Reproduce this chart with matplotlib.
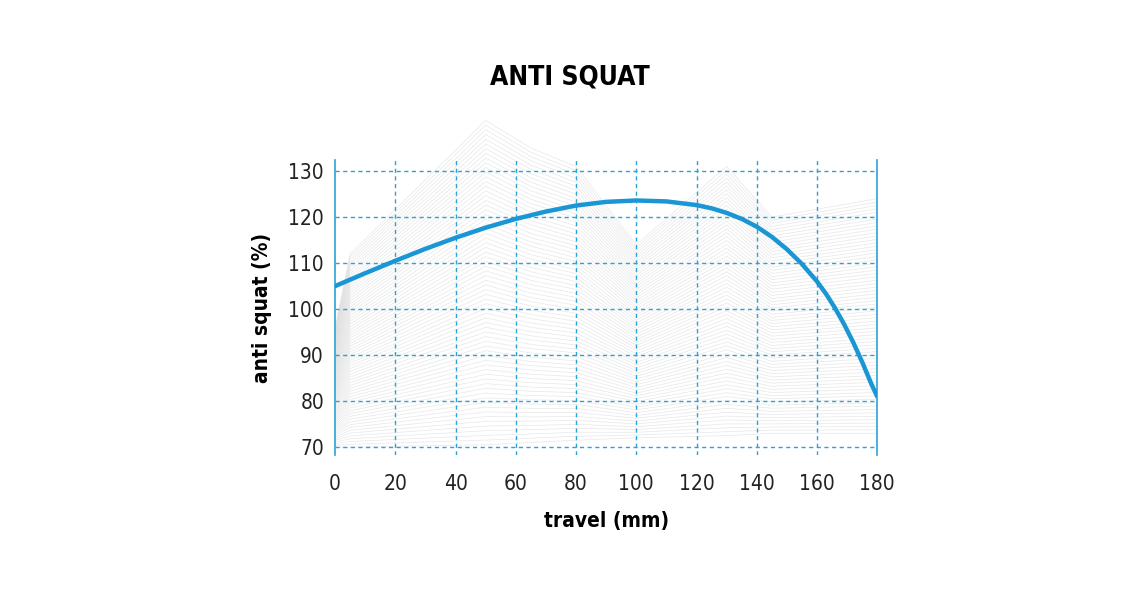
import numpy as np
import matplotlib.pyplot as plt

# anti squat curve
travel = [0, 10, 20, 30, 40, 50, 60, 70, 80, 90, 100, 110, 120, 125, 130, 135, 140, 145, 150, 155,
          160, 163, 166, 169, 172, 175, 178, 180]
anti_squat = [105, 107.8, 110.5, 113.1, 115.5, 117.7, 119.6, 121.2, 122.5, 123.3, 123.6, 123.4, 122.6,
              121.9, 120.9, 119.6, 117.9, 115.7, 113.0, 109.8, 106.0, 103.3, 100.2, 96.7, 92.8, 88.5, 83.8, 81.0]

# decorative background mesh: outline profiles
mesh_x = [0, 5, 50, 65, 80, 100, 130, 145, 180]
mesh_low = [70, 70, 70.5, 71, 71.5, 72, 72.5, 73, 73]
mesh_high = [96, 112, 141, 135, 131, 114, 131, 120, 124]

BLUE = "#1a96d4"
GRID = "#2ba3d8"

fig = plt.figure(figsize=(11.4, 5.97), dpi=100)
ax = fig.add_axes([0.294, 0.238, 0.4755, 0.494])

for t in np.linspace(0, 1, 70):
    ys = [lo + (hi - lo) * t for lo, hi in zip(mesh_low, mesh_high)]
    ax.plot(mesh_x, ys, color="#d0d0d0", lw=0.5, alpha=0.5, zorder=1, clip_on=False)

ax.plot(travel, anti_squat, color=BLUE, lw=3.2, zorder=4, solid_capstyle="round", solid_joinstyle="round")

ax.set_xlim(0, 180)
ax.set_ylim(68.3, 132.4)
ax.set_xticks(range(0, 181, 20))
ax.set_yticks(range(70, 131, 10))
for y in range(70, 131, 10):
    ax.axhline(y, color=GRID, lw=1, ls=(0, (3, 2.5)), zorder=3)
for x in range(20, 161, 20):
    ax.axvline(x, color=GRID, lw=1, ls=(0, (3, 2.5)), zorder=3)

for s in ["top", "bottom"]:
    ax.spines[s].set_visible(False)
for s in ["left", "right"]:
    ax.spines[s].set_color(GRID)
    ax.spines[s].set_linewidth(1.2)

ax.tick_params(axis="y", length=0, pad=8, labelsize=15)
ax.tick_params(axis="x", length=0, pad=14, labelsize=15)
for lab in ax.get_xticklabels() + ax.get_yticklabels():
    lab.set_fontstretch("condensed")
    lab.set_color("#222222")

ax.set_xlabel("travel (mm)", fontsize=15, fontweight="bold", fontstretch="condensed", labelpad=12)
ax.set_ylabel("anti squat (%)", fontsize=15, fontweight="bold", fontstretch="condensed", labelpad=12)
fig.text(0.5, 0.87, "ANTI SQUAT", ha="center", va="center", fontsize=19, fontweight="bold", fontstretch="condensed")

fig.savefig("out.png", dpi=100, facecolor="white")
